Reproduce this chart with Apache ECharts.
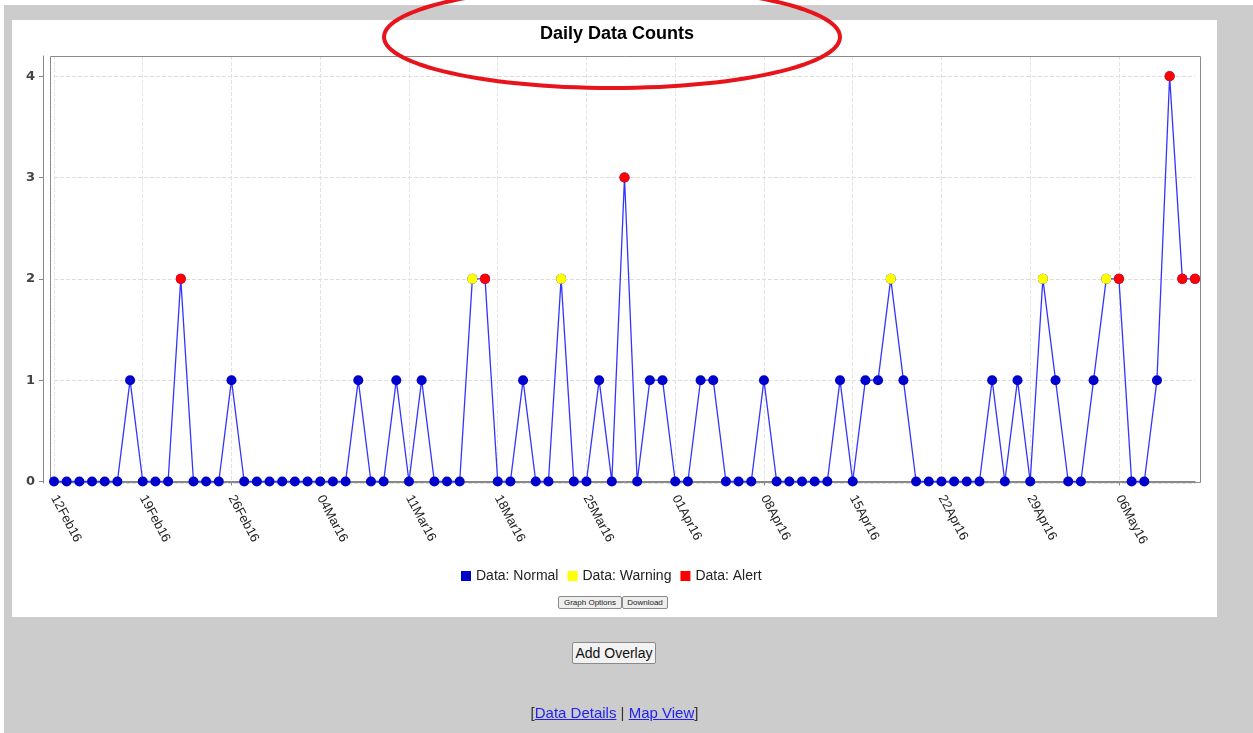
<!DOCTYPE html>
<html>
<head>
<meta charset="utf-8">
<script src="https://cdn.jsdelivr.net/npm/echarts@6/dist/echarts.min.js"></script>
<style>
  body { margin: 0; background: #fff; width: 1253px; height: 733px; overflow: hidden; font-family: 'Liberation Sans', Arial, sans-serif; }
  #bg { position: absolute; left: 4px; top: 5px; width: 1249px; height: 728px; background: #cccccc; }
  #panel { position: absolute; left: 12px; top: 20px; width: 1205px; height: 597px; background: #fff; }
  #chart { position: absolute; left: 0; top: 0; width: 1253px; height: 733px; z-index: 2; }
  .smallbtn { position: absolute; top: 596px; height: 13px; font-size: 8px; line-height: 11px; padding: 0 1px; white-space: nowrap;
    text-align: center; background: #eeeeee; border: 1px solid #8a8a8a; border-radius: 2px; color: #222; box-sizing: border-box; z-index: 3; }
  #overlay { position: absolute; left: 572px; top: 642px; width: 84px; height: 22px; font-size: 14px; line-height: 20px; white-space: nowrap;
    text-align: center; background: #f2f2f2; border: 1px solid #8a8a8a; border-radius: 2px; color: #111; box-sizing: border-box; z-index: 3; }
  #links { position: absolute; left: 0; width: 1229px; top: 704px; text-align: center; font-size: 15px; color: #333; z-index: 3; }
  #links a { color: #2222ee; text-decoration: underline; }
</style>
</head>
<body>
<div id="bg"></div>
<div id="panel"></div>
<div class="smallbtn" style="left:558px; width:64px;">Graph Options</div>
<div class="smallbtn" style="left:622px; width:46px;">Download</div>
<div id="overlay">Add Overlay</div>
<div id="links">[<a>Data Details</a> | <a>Map View</a>]</div>
<div id="chart"></div>
<script>
// one entry per day, 12 Feb 2016 .. 12 May 2016
const dates = [
  '12Feb16', '13Feb16', '14Feb16', '15Feb16', '16Feb16', '17Feb16', '18Feb16',
  '19Feb16', '20Feb16', '21Feb16', '22Feb16', '23Feb16', '24Feb16', '25Feb16',
  '26Feb16', '27Feb16', '28Feb16', '29Feb16', '01Mar16', '02Mar16', '03Mar16',
  '04Mar16', '05Mar16', '06Mar16', '07Mar16', '08Mar16', '09Mar16', '10Mar16',
  '11Mar16', '12Mar16', '13Mar16', '14Mar16', '15Mar16', '16Mar16', '17Mar16',
  '18Mar16', '19Mar16', '20Mar16', '21Mar16', '22Mar16', '23Mar16', '24Mar16',
  '25Mar16', '26Mar16', '27Mar16', '28Mar16', '29Mar16', '30Mar16', '31Mar16',
  '01Apr16', '02Apr16', '03Apr16', '04Apr16', '05Apr16', '06Apr16', '07Apr16',
  '08Apr16', '09Apr16', '10Apr16', '11Apr16', '12Apr16', '13Apr16', '14Apr16',
  '15Apr16', '16Apr16', '17Apr16', '18Apr16', '19Apr16', '20Apr16', '21Apr16',
  '22Apr16', '23Apr16', '24Apr16', '25Apr16', '26Apr16', '27Apr16', '28Apr16',
  '29Apr16', '30Apr16', '01May16', '02May16', '03May16', '04May16', '05May16',
  '06May16', '07May16', '08May16', '09May16', '10May16', '11May16', '12May16'
]

const counts = [
  0, 0, 0, 0, 0, 0, 1,
  0, 0, 0, 2, 0, 0, 0,
  1, 0, 0, 0, 0, 0, 0,
  0, 0, 0, 1, 0, 0, 1,
  0, 1, 0, 0, 0, 2, 2,
  0, 0, 1, 0, 0, 2, 0,
  0, 1, 0, 3, 0, 1, 1,
  0, 0, 1, 1, 0, 0, 0,
  1, 0, 0, 0, 0, 0, 1,
  0, 1, 1, 2, 1, 0, 0,
  0, 0, 0, 0, 1, 0, 1,
  0, 2, 1, 0, 0, 1, 2,
  2, 0, 0, 1, 4, 2, 2
]

// N = normal, W = warning, A = alert
const levels = [
  'N', 'N', 'N', 'N', 'N', 'N', 'N',
  'N', 'N', 'N', 'A', 'N', 'N', 'N',
  'N', 'N', 'N', 'N', 'N', 'N', 'N',
  'N', 'N', 'N', 'N', 'N', 'N', 'N',
  'N', 'N', 'N', 'N', 'N', 'W', 'A',
  'N', 'N', 'N', 'N', 'N', 'W', 'N',
  'N', 'N', 'N', 'A', 'N', 'N', 'N',
  'N', 'N', 'N', 'N', 'N', 'N', 'N',
  'N', 'N', 'N', 'N', 'N', 'N', 'N',
  'N', 'N', 'N', 'W', 'N', 'N', 'N',
  'N', 'N', 'N', 'N', 'N', 'N', 'N',
  'N', 'W', 'N', 'N', 'N', 'N', 'W',
  'A', 'N', 'N', 'N', 'A', 'A', 'A'
]

const myChart = echarts.init(document.getElementById('chart'))

const pick = (code) => counts.map((v, i) => (levels[i] === code ? v : '-'))

// red ellipse drawn over the title
const ring = []
for (let k = 0; k < 120; k++) {
  const a = (k / 120) * Math.PI * 2
  ring.push([612 + 228 * Math.cos(a), 37 + 51 * Math.sin(a)])
}

const option = {
  animation: false,
  backgroundColor: 'transparent',
  title: {
    text: 'Daily Data Counts',
    left: 612,
    textAlign: 'center',
    top: 20,
    textStyle: { fontFamily: 'Liberation Sans', fontSize: 18, fontWeight: 'bold', color: '#000' },
  },
  legend: {
    left: 461,
    top: 569,
    padding: 0,
    icon: 'rect',
    itemWidth: 10,
    itemHeight: 10,
    itemGap: 9,
    textStyle: { fontFamily: 'Liberation Sans', fontSize: 14, color: '#222' },
    data: ['Data: Normal', 'Data: Warning', 'Data: Alert'],
  },
  grid: { left: 54, right: 58, top: 56, bottom: 250, show: false },
  xAxis: {
    type: 'category',
    data: dates,
    boundaryGap: false,
    offset: 6,
    axisLine: { lineStyle: { color: '#888', width: 1 } },
    axisTick: { interval: 6, length: 4, lineStyle: { color: '#888' } },
    axisLabel: {
      interval: 6, rotate: -62, margin: 7,
      fontFamily: 'Liberation Sans', fontSize: 13, color: '#222',
    },
    splitLine: { show: true, interval: 6, lineStyle: { type: 'dashed', color: '#e2e2e2' } },
  },
  yAxis: {
    type: 'value',
    min: -0.015,
    max: 4.2,
    offset: 11,
    axisLine: { show: true, lineStyle: { color: '#888', width: 1 } },
    axisTick: { show: true, length: 4, lineStyle: { color: '#888' } },
    axisLabel: {
      showMinLabel: false, showMaxLabel: false, margin: 8,
      fontFamily: 'DejaVu Sans', fontSize: 13, fontWeight: 'bold', color: '#444',
    },
    splitLine: { show: true, lineStyle: { type: 'dashed', color: '#dedede' } },
  },
  graphic: [
    {
      type: 'rect', z: 1, silent: true,
      shape: { x: 50.5, y: 56.5, width: 1150, height: 426 },
      style: { fill: 'none', stroke: '#8a8a8a', lineWidth: 1 },
    },
    {
      type: 'polygon', z: 100, silent: true,
      shape: { points: ring },
      style: { fill: 'none', stroke: '#e8141b', lineWidth: 4 },
    },
  ],
  series: [
    {
      name: 'Data: Normal',
      type: 'line',
      data: counts,
      symbol: 'circle',
      symbolSize: 10,
      showAllSymbol: true,
      z: 2,
      itemStyle: { color: '#0000cc', opacity: 1 },
      lineStyle: { color: '#3434ff', width: 1.3 },
    },
    {
      name: 'Data: Warning',
      type: 'scatter',
      data: pick('W'),
      symbolSize: 10,
      z: 3,
      itemStyle: { color: '#ffff00', opacity: 1 },
    },
    {
      name: 'Data: Alert',
      type: 'scatter',
      data: pick('A'),
      symbolSize: 10,
      z: 3,
      itemStyle: { color: '#ff0000', opacity: 1 },
    },
  ],
}

option && myChart.setOption(option)
</script>
</body>
</html>
